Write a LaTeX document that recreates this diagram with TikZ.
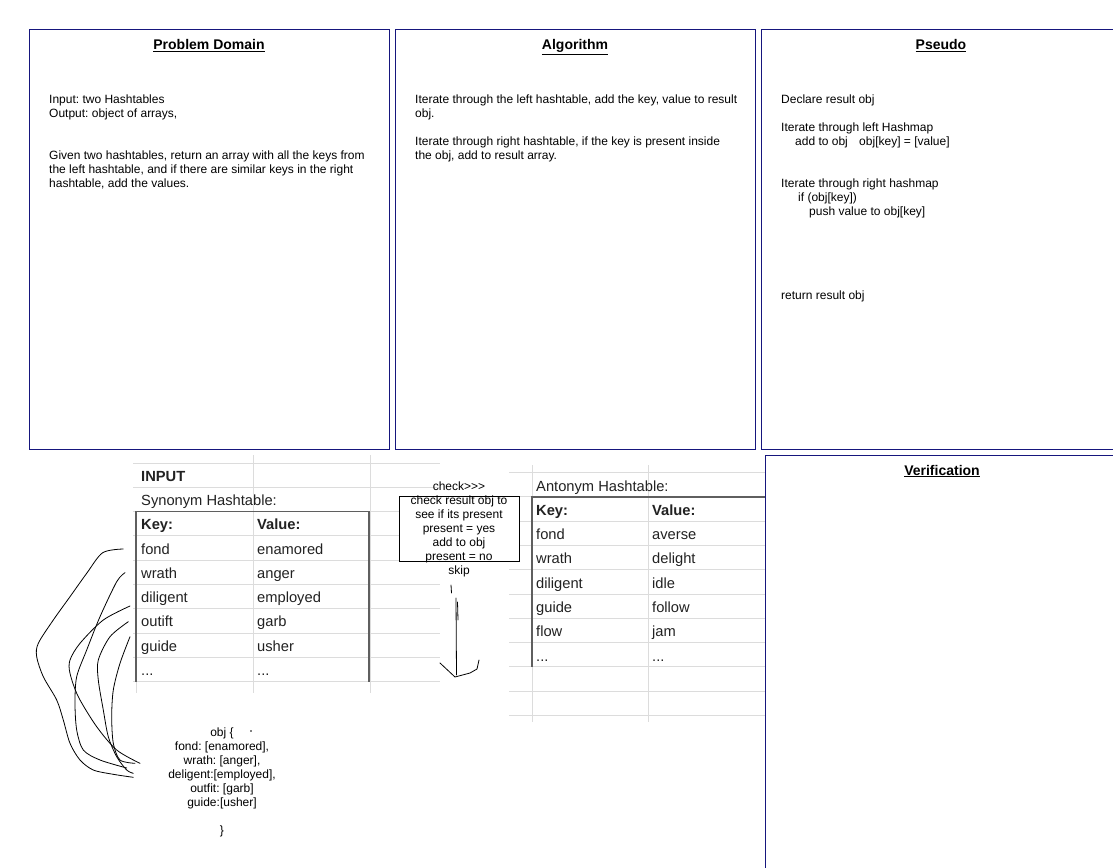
\documentclass[tikz,border=0pt]{standalone}
\usepackage{fontspec}
\setmainfont{Liberation Sans}
\definecolor{navy}{RGB}{22,22,125}
\definecolor{gridgray}{RGB}{220,220,220}
\definecolor{sheetdark}{RGB}{95,95,95}
\definecolor{sheettext}{RGB}{34,34,34}
\frenchspacing
\begin{document}
\begin{tikzpicture}[x=1pt,y=-1pt,
  panel/.style={draw=navy, line width=1pt, anchor=north west, inner sep=0pt},
  ptitle/.style={font=\fontsize{14}{16}\selectfont\bfseries, inner sep=0pt, anchor=base},
  body/.style={font=\fontsize{12}{14}\selectfont, align=left, anchor=north west, inner sep=0pt},
  ctext/.style={font=\fontsize{12}{14}\selectfont, align=center, inner sep=0pt},
  cell/.style={font=\fontsize{14.7}{17}\selectfont, text=sheettext, anchor=base west, inner sep=0pt},
  hcell/.style={font=\fontsize{14.7}{17}\selectfont\bfseries, text=sheettext, anchor=base west, inner sep=0pt},
  gridline/.style={draw=gridgray, line width=0.9pt},
  darkline/.style={draw=sheetdark, line width=1.6pt},
  scribble/.style={draw=black, line width=0.8pt, line cap=round, line join=round},
]
\useasboundingbox (0,0) rectangle (1113,867);
\fill[white] (0,0) rectangle (1113,867);
\clip (0,0) rectangle (1113,867);

% ---------- panels ----------
\node[panel, minimum width=360pt, minimum height=420pt] (pd) at (29,29) {};
\node[panel, minimum width=360pt, minimum height=420pt] (alg) at (395,29) {};
\node[panel, minimum width=380pt, minimum height=420pt] (ps) at (761,29) {};
\node[panel, minimum width=380pt, minimum height=440pt] (ver) at (765,455) {};

\node[ptitle] (pdt) at (209,50) {\underline{Problem Domain}};
\node[ptitle] (algt) at (575,50) {\underline{Algorithm}};
\node[ptitle] (pst) at (941,50) {\underline{Pseudo}};
\node[ptitle] (vert) at (942,475) {\underline{Verification}};

\node[body] (pdb) at (49,94.5) {Input: two Hashtables\\
Output: object of arrays,\\[28pt]
Given two hashtables, return an array with all the keys from\\
the left hashtable, and if there are similar keys in the right\\
hashtable, add the values.};

\node[body] (algb) at (415,94.5) {Iterate through the left hashtable, add the key, value to result\\
obj.\\[14pt]
Iterate through right hashtable, if the key is present inside\\
the obj, add to result array.};

\node[body] (psb) at (781,94.5) {Declare result obj\\[14pt]
Iterate through left Hashmap\\
\hspace{14pt}add to obj\hspace{8pt} obj[key] = [value]\\[28pt]
Iterate through right hashmap\\
\hspace{17pt}if (obj[key])\\
\hspace{28pt}push value to obj[key]\\[70pt]
return result obj};

% ---------- left sheet grid ----------
\foreach \k in {0,...,9} {
  \draw[gridline] (133,{463+24.3*\k}) -- (440,{463+24.3*\k});
}
\draw[gridline] (253,455) -- (253,693);
\draw[gridline] (370,455) -- (370,693);
\draw[gridline] (136,682) -- (136,693);
\draw[darkline] (136,682) -- (136,511.6) -- (369,511.6) -- (369,682);

\node[hcell] (inp) at (141,481) {INPUT};
\node[cell] (syn) at (141,505.5) {Synonym Hashtable:};
\node[hcell] (lk) at (141,529.8) {Key:};
\node[hcell] (lv) at (257,529.8) {Value:};
\node[cell] (k1) at (141,554) {fond};      \node[cell] (v1) at (257,554) {enamored};
\node[cell] (k2) at (141,578.3) {wrath};   \node[cell] (v2) at (257,578.3) {anger};
\node[cell] (k3) at (141,602.6) {diligent};\node[cell] (v3) at (257,602.6) {employed};
\node[cell] (k4) at (141,626.9) {outift};  \node[cell] (v4) at (257,626.9) {garb};
\node[cell] (k5) at (141,651.2) {guide};   \node[cell] (v5) at (257,651.2) {usher};
\node[cell] (k6) at (141,675.5) {...};     \node[cell] (v6) at (257,675.5) {...};

% ---------- right sheet grid ----------
\foreach \k in {0,...,10} {
  \draw[gridline] (509,{472.5+24.3*\k}) -- (765,{472.5+24.3*\k});
}
\draw[gridline] (532,465) -- (532,722);
\draw[gridline] (648,465) -- (648,722);
\draw[darkline] (532,667) -- (532,496.8) -- (765,496.8);

\node[cell] (ant) at (536,491) {Antonym Hashtable:};
\node[hcell] (rk) at (536,515.3) {Key:};
\node[hcell] (rv) at (652,515.3) {Value:};
\node[cell] (rk1) at (536,539.6) {fond};     \node[cell] (rv1) at (652,539.6) {averse};
\node[cell] (rk2) at (536,563.9) {wrath};    \node[cell] (rv2) at (652,563.9) {delight};
\node[cell] (rk3) at (536,588.2) {diligent}; \node[cell] (rv3) at (652,588.2) {idle};
\node[cell] (rk4) at (536,612.5) {guide};    \node[cell] (rv4) at (652,612.5) {follow};
\node[cell] (rk5) at (536,636.8) {flow};     \node[cell] (rv5) at (652,636.8) {jam};
\node[cell] (rk6) at (536,661) {...};        \node[cell] (rv6) at (652,661) {...};

% ---------- check box ----------
\node[draw=black, line width=0.8pt, minimum width=120pt, minimum height=65pt, inner sep=0pt, anchor=north west, fill=white] (chkbox) at (399,496) {};
\node[ctext] (chk) at (459,529.5) {check>\kern0pt>\kern0pt>\\
check result obj to\\
see if its present\\
present = yes\\
add to obj\\
present = no\\
skip};

% hand-drawn arrow
\coordinate (a1) at (451,585);
\coordinate (a2) at (451.5,593);
\draw[scribble] (a1) -- (a2);
\coordinate (a3) at (456,598);
\coordinate (a4) at (456.5,675);
\draw[scribble] (a3) -- (a4);
\draw[scribble] (457.5,602) -- (458,620);
\draw[scribble] (440,663) -- (455,677) -- (470,673) -- (477,669) -- (479,660);

% ---------- obj text ----------
\node[ctext] (obj) at (222,782) {obj \{\\
fond: [enamored],\\
wrath: [anger],\\
deligent:[employed],\\
outfit: [garb]\\
guide:[usher]\\[14pt]
\}};
\fill (251,731) circle (0.8);

% ---------- scribbles from keys to obj ----------
\draw[scribble] plot[smooth] coordinates {(123.3,549) (102.7,552.7) (86.7,573.3) (70,596.7) (53.3,620) (38.3,643.3) (36.7,656.7) (43.3,676.7) (56.7,700) (63.3,720) (70,743.3) (80,760) (93.3,770) (113.3,774.3) (133.3,777.3)};
\draw[scribble] plot[smooth] coordinates {(125,572.7) (116.7,581.7) (100,616.7) (86.7,650) (76.7,676.7) (75,703.3) (76.7,730) (83.3,750) (100,760) (126.7,768)};
\draw[scribble] plot[smooth] coordinates {(130,606) (103.3,620) (80,643.3) (70,660) (70,673.3) (78.3,696.7) (96.7,726.7) (116.7,750) (140,763.3)};
\draw[scribble] plot[smooth] coordinates {(128.3,621.7) (110,636.7) (98.3,660) (98.3,680) (103.3,710) (108.3,736.7) (116.7,756.7) (126.7,770) (133.3,773.3)};
\draw[scribble] plot[smooth] coordinates {(130,636.7) (120,663.3) (113.3,690) (111.7,716.7) (113.3,743.3) (120,760) (135,763.3)};
\end{tikzpicture}
\end{document}
